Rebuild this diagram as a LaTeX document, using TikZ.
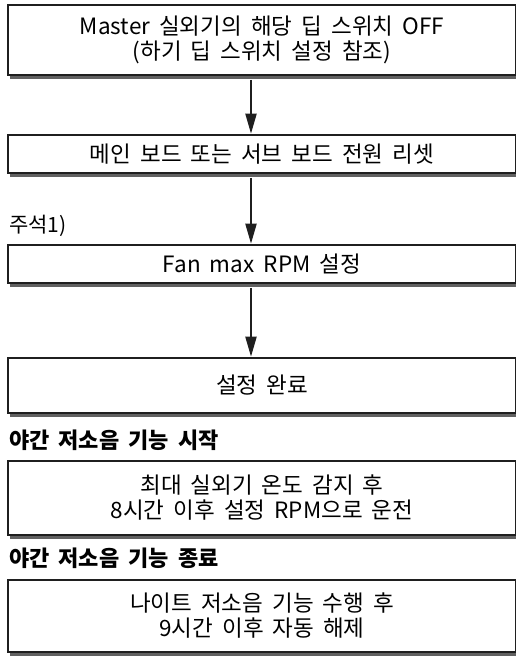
\documentclass[tikz,border=0pt]{standalone}
\usepackage{fontspec}
\setmainfont[WordSpace=1.8]{Noto Sans CJK KR}
\usetikzlibrary{arrows.meta,shadows}
\begin{document}
\begin{tikzpicture}[
                x=1pt, y=-1pt,
                ink/.style={draw=black!88, line width=2.6pt},
                stepbox/.style={ink, fill=white, minimum width=508pt, inner sep=0pt,
                    align=center, font=\fontsize{22.5}{25}\selectfont,
                    drop shadow={shadow xshift=2pt, shadow yshift=-3.5pt,
                        fill=black!62, opacity=1}},
                flow/.style={draw=black!88, line width=2pt,
                    -{Triangle[width=11pt,length=20pt]}},
                note/.style={anchor=west, inner sep=0pt, font=\fontsize{21}{25}\selectfont},
                heading/.style={note, font=\fontsize{22}{25}\selectfont\bfseries}]
        \useasboundingbox (0,0) rectangle (515,656);

        % Setting procedure
        \node[stepbox, minimum height=70pt] (dip) at (262,40)
                {Master 실외기의 해당 딥 스위치 OFF\\(하기 딥 스위치 설정 참조)};
        \node[stepbox, minimum height=38pt] (reset) at (262,154)
                {메인 보드 또는 서브 보드 전원 리셋};
        \node[stepbox, minimum height=38pt] (rpm) at (262,264)
                {Fan max RPM 설정};
        \node[stepbox, minimum height=55pt] (done) at (262,385.5)
                {설정 완료};

        % Arrows sit a little left of the box centres
        \coordinate (ax) at (251,0);
        \draw[flow] ([yshift=-3.5pt]dip.south -| ax) -- (reset.north -| ax);
        \draw[flow] ([yshift=-3.5pt]reset.south -| ax) -- (rpm.north -| ax);
        \draw[flow] ([yshift=-3.5pt]rpm.south -| ax) -- (done.north -| ax);

        \node[note] (fn) at (9,226) {주석1)};

        % Night low-noise start / end
        \node[heading] (start) at (9,440) {야간 저소음 기능 시작};
        \node[stepbox, minimum height=74pt] (night) at (262,498)
                {최대 실외기 온도 감지 후\\8시간 이후 설정 RPM으로 운전};
        \node[heading] (stop) at (9,558) {야간 저소음 기능 종료};
        \node[stepbox, minimum height=72pt] (release) at (262,616)
                {나이트 저소음 기능 수행 후\\9시간 이후 자동 해제};
\end{tikzpicture}
\end{document}
